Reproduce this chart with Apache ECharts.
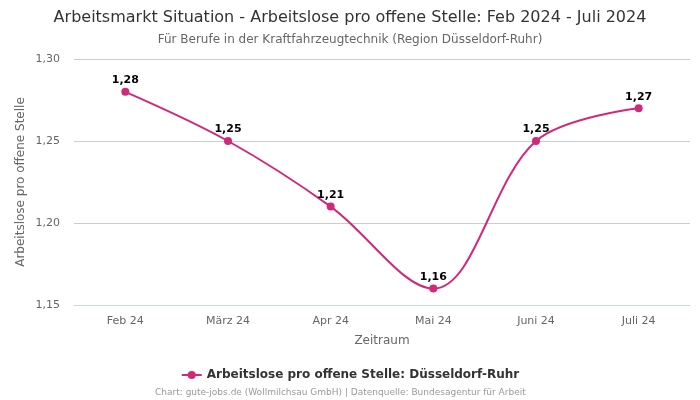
<!DOCTYPE html>
<html><head><meta charset="utf-8">
<script src="https://cdn.jsdelivr.net/npm/echarts@6/dist/echarts.min.js"></script>
<style>html,body{margin:0;padding:0;background:#fff}#c{width:700px;height:400px}</style>
</head><body><div id="c"></div>
<script>
const categories = ['Feb 24','März 24','Apr 24','Mai 24','Juni 24','Juli 24'];
const values = [1.28, 1.25, 1.21, 1.16, 1.25, 1.27];
const yTicks = [1.15, 1.20, 1.25, 1.30];
const seriesName = 'Arbeitslose pro offene Stelle: Düsseldorf-Ruhr';
const fmt = v => v.toFixed(2).replace('.', ',');
const FONT = 'DejaVu Sans';
const chart = echarts.init(document.getElementById('c'), null, {renderer:'canvas'});
chart.setOption({
  animation:false,
  textStyle:{fontFamily:FONT},
  title:[
    {text:'Arbeitsmarkt Situation - Arbeitslose pro offene Stelle: Feb 2024 - Juli 2024', left:'center', top:5, textStyle:{fontFamily:FONT,fontSize:16,fontWeight:'normal',color:'#333'}},
    {text:'Für Berufe in der Kraftfahrzeugtechnik (Region Düsseldorf-Ruhr)', left:'center', top:29, textStyle:{fontFamily:FONT,fontSize:12,fontWeight:'normal',color:'#666'}},
    {text:'Chart: gute-jobs.de (Wollmilchsau GmbH) | Datenquelle: Bundesagentur für Arbeit', left:150, top:383, textStyle:{fontFamily:FONT,fontSize:9,fontWeight:'normal',color:'#999'}}
  ],
  legend:{bottom:14, left:'center', itemWidth:20, itemHeight:10, textStyle:{fontFamily:FONT,fontSize:12,fontWeight:'bold',color:'#333'}, data:[seriesName]},
  grid:{left:74, right:10, top:59, bottom:95},
  xAxis:{type:'category', data:categories, boundaryGap:true,
    name:'Zeitraum', nameLocation:'middle', nameGap:30, nameTextStyle:{fontFamily:FONT,fontSize:12,color:'#666'},
    axisLine:{lineStyle:{color:'#ccd6eb'}}, axisTick:{show:false},
    axisLabel:{fontFamily:FONT,fontSize:11,color:'#666',margin:11}},
  yAxis:{type:'value', min:yTicks[0], max:yTicks[yTicks.length-1], interval:0.05,
    name:'Arbeitslose pro offene Stelle', nameLocation:'middle', nameGap:47, nameMoveOverlap:false, nameTextStyle:{fontFamily:FONT,fontSize:12,color:'#666'},
    axisLine:{show:false}, axisTick:{show:false},
    splitLine:{lineStyle:{color:'#ccc'}},
    axisLabel:{fontFamily:FONT,fontSize:11,color:'#666',margin:14,formatter:v=>fmt(v)}},
  series:[{name:seriesName, type:'line', data:values, smooth:0.35,
    symbol:'circle', symbolSize:8, color:'#d1297a', lineStyle:{width:2,color:'#d1297a'},
    itemStyle:{color:'#d1297a'},
    label:{show:true, position:'top', distance:2, formatter:p=>fmt(p.value), fontFamily:FONT, fontSize:11, fontWeight:'bold', color:'#000'}}]
});
</script></body></html>
